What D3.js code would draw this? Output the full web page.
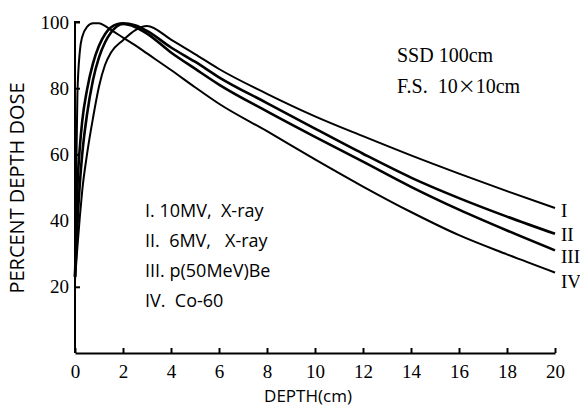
<!DOCTYPE html>
<html>
<head>
<meta charset="utf-8">
<script src="https://cdn.jsdelivr.net/npm/d3@7"></script>
<style>
  body { margin: 0; background: #fff; }
  svg { display: block; }
  .tick text { font-family: 'Liberation Serif', 'Times New Roman', serif; font-size: 19px; }
</style>
</head>
<body>
<svg id="chart" width="580" height="417"></svg>
<script>
var depth = [0, 0.05, 0.1, 0.2, 0.3, 0.5, 0.75, 1, 1.25, 1.5, 2, 2.5, 3, 4, 5, 6, 8, 10, 12, 14, 16, 18, 20];
var doseI   = [22, 27, 32, 41, 49, 60, 71, 80.5, 87, 90.8, 94.5, 97.5, 98.8, 94.7, 90.3, 85.8, 78.3, 71.5, 65.5, 59.7, 54.2, 48.9, 43.8];
var doseII  = [23, 38, 50, 62, 70, 79.5, 87.5, 92.8, 96.3, 98.4, 99.6, 99, 97.3, 92.3, 88, 83.3, 75.5, 67.8, 60.2, 53, 46.8, 41.2, 36];
var doseIII = [23, 31, 39, 51, 60, 72, 82.5, 89.3, 93.8, 96.8, 99.4, 98.5, 96.5, 90.8, 85.9, 81.1, 73, 65.3, 57.8, 50.2, 43.3, 37, 31];
var doseIV  = [25, 52, 78, 91, 95.5, 98.5, 99.6, 99.6, 98.8, 97.6, 95.3, 93, 90.5, 85.5, 80.3, 75.3, 67, 58.5, 50.3, 42.6, 35.6, 29.8, 24.3];
var seriesNames = ["I", "II", "III", "IV"];
var legendLines = ["I. 10MV,  X-ray", "II.  6MV,   X-ray", "III. p(50MeV)Be", "IV.  Co-60"];
var xTicks = [0, 2, 4, 6, 8, 10, 12, 14, 16, 18, 20];
var yTicks = [20, 40, 60, 80, 100];

var svg = d3.select("#chart"),
    margin = {top: 22, right: 25, bottom: 64, left: 75},
    width = 580 - margin.left - margin.right,
    height = 417 - margin.top - margin.bottom,
    g = svg.append("g").attr("transform", "translate(" + margin.left + "," + margin.top + ")");

var x = d3.scaleLinear().domain([0, 20]).range([0, width]);
var y = d3.scaleLinear().domain([0, 100]).range([height, 0]);

var serif = "'Liberation Serif', 'Times New Roman', serif";
var sans = "'Open Sans', 'Noto Sans', sans-serif";

// axes
var xAxis = g.append("g")
    .attr("transform", "translate(0," + height + ")")
    .call(d3.axisBottom(x).tickValues(xTicks).tickSize(-5).tickSizeOuter(0).tickPadding(12));
var yAxis = g.append("g")
    .call(d3.axisLeft(y).tickValues(yTicks).tickSize(-5).tickSizeOuter(0).tickPadding(6));

[xAxis, yAxis].forEach(function(a) {
  a.attr("font-family", serif).attr("font-size", 19);
  a.selectAll("path, line").attr("stroke", "#000").attr("stroke-width", 2);
  a.selectAll("text").attr("fill", "#000");
});
yAxis.select(".domain").attr("d", "M0," + height + "V" + y(100) + "h5");

// curves
var series = [doseI, doseII, doseIII, doseIV];
var widths = [2, 2.6, 2.6, 2];
var line = d3.line()
    .x(function(d) { return x(d[0]); })
    .y(function(d) { return y(d[1]); })
    .curve(d3.curveMonotoneX);

series.forEach(function(vals, i) {
  var pts = depth.map(function(d, j) { return [d, vals[j]]; });
  g.append("path")
      .datum(pts)
      .attr("fill", "none")
      .attr("stroke", "#000")
      .attr("stroke-width", widths[i])
      .attr("stroke-linejoin", "round")
      .attr("d", line);
  g.append("text")
      .attr("x", width + 6)
      .attr("y", y(vals[vals.length - 1]) + [2, 1, 6, 9][i])
      .attr("dy", ".35em")
      .attr("font-family", serif)
      .attr("font-size", 19)
      .text(seriesNames[i]);
});

// legend
legendLines.forEach(function(t, i) {
  svg.append("text")
      .attr("x", 145)
      .attr("y", 217 + i * 30)
      .attr("font-family", sans)
      .attr("font-size", 18)
      .style("white-space", "pre")
      .text(t);
});

// field notes
svg.append("text").attr("x", 397).attr("y", 62)
    .attr("font-family", serif).attr("font-size", 20).text("SSD 100cm");
var fs = svg.append("text").attr("x", 397).attr("y", 93)
    .attr("font-family", serif).attr("font-size", 20).style("white-space", "pre");
fs.append("tspan").text("F.S.  10");
fs.append("tspan").attr("font-family", "'Noto Sans CJK SC', sans-serif").attr("font-size", 18).text("×");
fs.append("tspan").text("10cm");

// axis titles
svg.append("text")
    .attr("transform", "translate(24,188) rotate(-90)")
    .attr("text-anchor", "middle")
    .attr("font-family", sans)
    .attr("font-size", 20)
    .text("PERCENT DEPTH DOSE");
svg.append("text")
    .attr("x", 308).attr("y", 402)
    .attr("text-anchor", "middle")
    .attr("font-family", sans)
    .attr("font-size", 17)
    .text("DEPTH(cm)");
</script>
</body>
</html>
